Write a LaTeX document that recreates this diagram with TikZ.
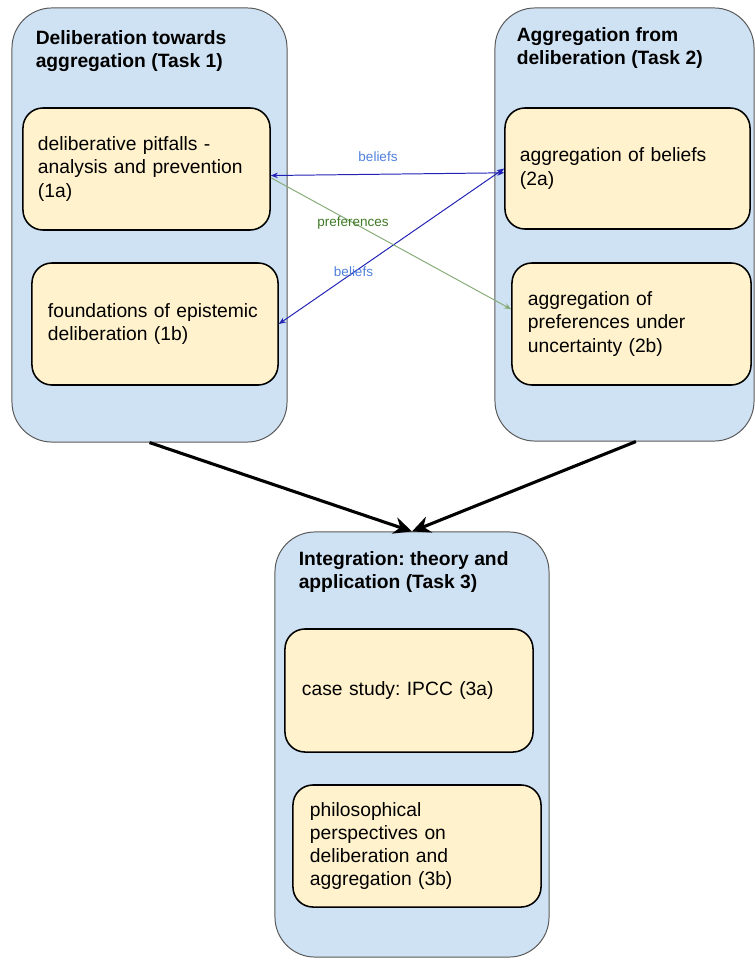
\documentclass[tikz,border=0pt]{standalone}
\usepackage{fontspec}
\setmainfont{Liberation Sans}
\usepackage{xcolor}
\usepackage{tikz}
\usetikzlibrary{arrows.meta,shapes}
\usetikzlibrary{positioning}
\definecolor{groupblue}{HTML}{CFE2F3}
\definecolor{itemyellow}{HTML}{FFF2CC}
\definecolor{beliefline}{HTML}{2222B4}
\definecolor{beliefword}{HTML}{4F7FDB}
\definecolor{prefline}{HTML}{86AC78}
\definecolor{prefword}{HTML}{3F7A25}
\newcommand{\boxfont}{\fontsize{13.7}{16.4}\selectfont}
\newcommand{\edgefont}{\fontsize{9.6}{11}\selectfont}
\frenchspacing

\begin{document}
\begin{tikzpicture}[x=0.025cm, y=-0.025cm,
  group/.style={rectangle, draw=black!65, fill=groupblue, rounded corners=1cm, line width=0.7pt, inner sep=0pt},
  grouptitle/.style={anchor=north west, inner sep=0pt, align=left, font=\boxfont\bfseries},
  item/.style={rectangle, draw=black, fill=itemyellow, rounded corners=0.5cm, line width=1.1pt, align=left, inner xsep=0.375cm, font=\boxfont},
  belief/.style={draw=beliefline, line width=0.7pt, {Stealth[length=5pt,width=4pt]}-{Stealth[length=5pt,width=4pt]}},
  pref/.style={draw=prefline, line width=0.7pt, -{Stealth[length=5pt,width=4pt]}},
  bigarrow/.style={draw=black, line width=2.2pt, -{Stealth[length=13pt,width=12pt]}}]

\useasboundingbox (0,0) rectangle (755,960);

\node[group, minimum width=6.875cm, minimum height=10.85cm] (task1) at (149.5,225) {};
\node[grouptitle] (h1) at ([xshift=0.6cm, yshift=-0.58cm]task1.north west) {Deliberation towards\\aggregation (Task 1)};

\node[group, minimum width=6.475cm, minimum height=10.825cm] (task2) at (624.5,224.5) {};
\node[grouptitle] (h2) at ([xshift=0.55cm, yshift=-0.5cm]task2.north west) {Aggregation from\\deliberation (Task 2)};

\node[group, minimum width=6.85cm, minimum height=10.625cm] (task3) at (412,744.5) {};
\node[grouptitle] (h3) at ([xshift=0.6cm, yshift=-0.5cm]task3.north west) {Integration: theory and\\application (Task 3)};

\node[item, text width=5.425cm, minimum height=3.05cm] (t1a) at (146.5,169) {deliberative pitfalls -\\analysis and prevention\\(1a)};
\node[item, text width=5.35cm, minimum height=3.05cm, inner xsep=0.4cm] (t1b) at (155,324) {foundations of epistemic\\deliberation (1b)};

\node[item, text width=5.375cm, minimum height=3.025cm] (t2a) at (627.5,168.5) {aggregation of beliefs\\(2a)};
\node[item, text width=5.175cm, minimum height=3.05cm, inner xsep=0.4cm] (t2b) at (631.5,324) {aggregation of\\preferences under\\uncertainty (2b)};

\node[item, text width=5.35cm, minimum height=3.075cm, inner xsep=0.425cm] (t3a) at (409,690.5) {case study: IPCC (3a)};
\node[item, text width=5.35cm, minimum height=3.05cm, inner xsep=0.425cm] (t3b) at (417,846) {philosophical\\perspectives on\\deliberation and\\aggregation (3b)};

\path[belief] (t1a.-3) -- (t2a.182);
\path[belief] (t1b.east) -- (t2a.west);
\path[pref] (t1a.-4) -- (t2b.173);

\node[text=beliefword, font=\edgefont] (l1) at (378,157) {beliefs};
\node[text=prefword, font=\edgefont] (l2) at (353,223) {preferences};
\node[text=beliefword, font=\edgefont] (l3) at (353.5,272) {beliefs};

\path[bigarrow] (task1.south) -- (task3.north);
\path[bigarrow] (task2.-87) -- (task3.north);

\end{tikzpicture}
\end{document}
